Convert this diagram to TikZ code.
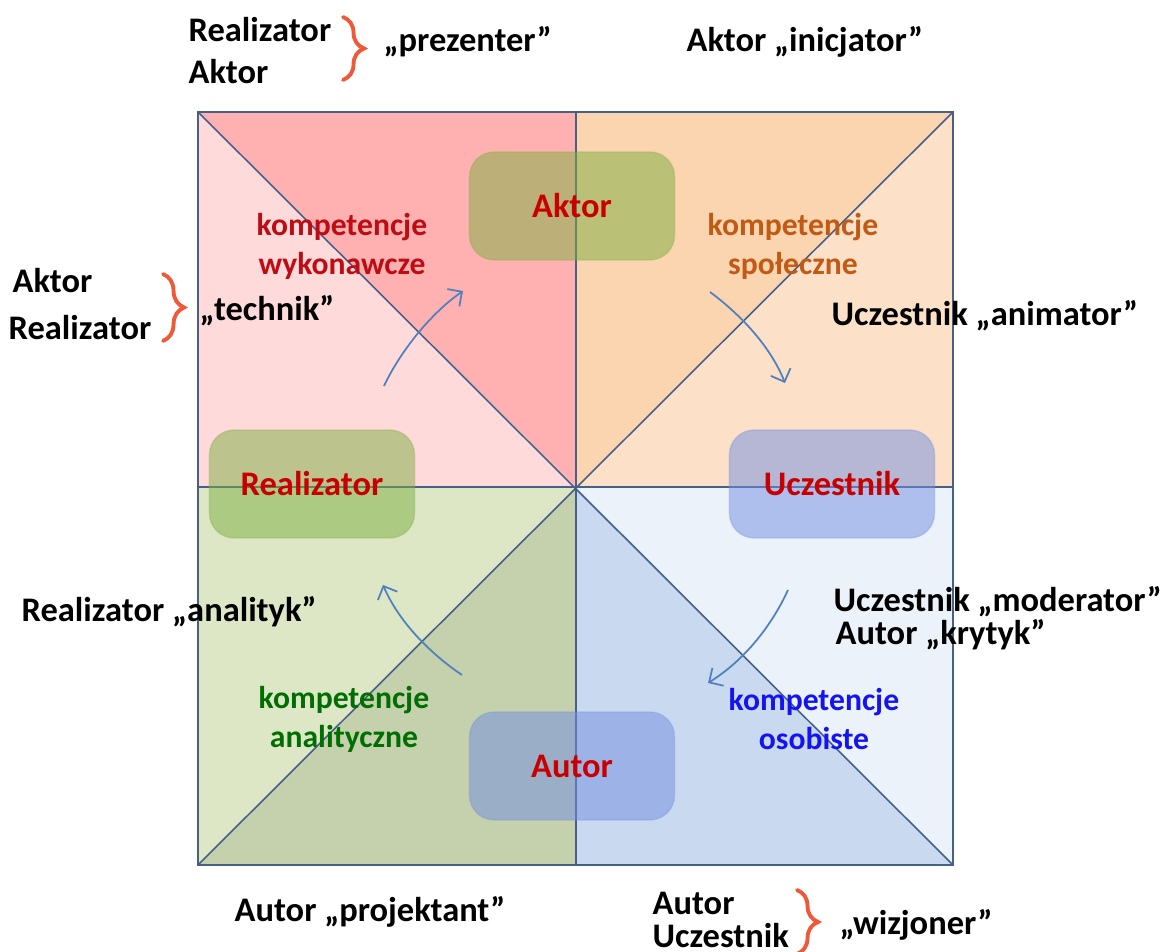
\documentclass[tikz,border=0pt]{standalone}
\usepackage{fontspec}
\setmainfont{Carlito}
\usepackage{tikz}
\usetikzlibrary{arrows.meta, positioning, decorations.pathreplacing}
\definecolor{myline}{RGB}{70,96,138}
\definecolor{pinklt}{RGB}{255,218,218}
\definecolor{pinkdk}{RGB}{255,177,177}
\definecolor{peachlt}{RGB}{252,224,200}
\definecolor{peachdk}{RGB}{251,212,176}
\definecolor{greenlt}{RGB}{221,231,198}
\definecolor{greendk}{RGB}{197,208,172}
\definecolor{bluelt}{RGB}{236,242,250}
\definecolor{bluedk}{RGB}{201,218,240}
\definecolor{myolive}{RGB}{125,174,64}
\definecolor{myboxblue}{RGB}{114,142,226}
\definecolor{myred}{RGB}{200,0,0}
\definecolor{mywine}{RGB}{190,12,20}
\definecolor{mybrown}{RGB}{192,90,20}
\definecolor{mygreen}{RGB}{0,110,0}
\definecolor{myblue}{RGB}{20,20,240}
\definecolor{myflow}{RGB}{79,129,189}
\definecolor{mybrace}{RGB}{240,88,58}
\tikzset{
  quadline/.style={draw=myline, line width=0.45pt},
  rolebox/.style={rectangle, rounded corners=7pt, minimum width=2.05cm,
    minimum height=1.08cm, font=\bfseries\fontsize{9.8}{12}\selectfont,
    text=myred, fill opacity=0.5, draw opacity=0.3, text opacity=1},
  olivebox/.style={rolebox, fill=myolive, draw=myolive},
  bluebox/.style={rolebox, fill=myboxblue, draw=myboxblue},
  complbl/.style={align=center, font=\bfseries\fontsize{9}{11.1}\selectfont},
  rolelbl/.style={anchor=west, inner sep=0pt,
    font=\bfseries\fontsize{9.8}{12}\selectfont},
  flow/.style={-{Straight Barb[length=3pt,width=6pt]}, draw=myflow, line width=0.5pt},
  bracket/.style={decorate, decoration={brace, amplitude=6pt},
    draw=mybrace, line width=1.1pt, line cap=round}
}

\begin{document}
\begin{tikzpicture}[x=0.01cm, y=-0.01cm]
  \useasboundingbox (0,0) rectangle (1162,952);

  % Square corners and centre
  \coordinate (TL) at (198,112);
  \coordinate (TR) at (953,112);
  \coordinate (BL) at (198,865);
  \coordinate (BR) at (953,865);
  \coordinate (C) at (576,487);
  \coordinate (T) at (576,112);
  \coordinate (B) at (576,865);
  \coordinate (L) at (198,487);
  \coordinate (R) at (953,487);

  % Quadrant fills
  \fill[pinklt] (TL) rectangle (C);
  \fill[pinkdk] (TL) -- (T) -- (C) -- cycle;
  \fill[peachlt] (T) rectangle (R);
  \fill[peachdk] (T) -- (TR) -- (C) -- cycle;
  \fill[greenlt] (L) rectangle (B);
  \fill[greendk] (BL) -- (B) -- (C) -- cycle;
  \fill[bluelt] (C) rectangle (BR);
  \fill[bluedk] (C) -- (B) -- (BR) -- cycle;

  % Lines
  \draw[quadline] (TL) rectangle (BR);
  \draw[quadline] (TL) -- (BR);
  \draw[quadline] (TR) -- (BL);
  \draw[quadline, line width=0.6pt] (T) -- (B);
  \draw[quadline, line width=0.8pt] (L) -- (R);

  % Role boxes
  \node[olivebox] (aktor) at (572,206) {Aktor};
  \node[olivebox] (realizator) at (312,484) {Realizator};
  \node[bluebox] (uczestnik) at (832,484) {Uczestnik};
  \node[bluebox] (autor) at (572,766) {Autor};

  % Competence labels
  \node[complbl, text=mywine] (kwyk) at (342,246) {kompetencje\\wykonawcze};
  \node[complbl, text=mybrown] (kspo) at (793,246) {kompetencje\\społeczne};
  \node[complbl, text=mygreen] (kana) at (344,719) {kompetencje\\analityczne};
  \node[complbl, text=myblue] (koso) at (814,719) {kompetencje\\osobiste};

  % Flow arrows
  \coordinate (f1a) at (384,386); \coordinate (f1b) at (463,291);
  \coordinate (f2a) at (710,292); \coordinate (f2b) at (785,383);
  \coordinate (f3a) at (788,590); \coordinate (f3b) at (708,683);
  \coordinate (f4a) at (462,675); \coordinate (f4b) at (383,585);
  \draw[flow] (f1a) .. controls (400,352) and (430,314) .. (f1b);
  \draw[flow] (f2a) .. controls (745,318) and (772,350) .. (f2b);
  \draw[flow] (f3a) .. controls (772,625) and (745,660) .. (f3b);
  \draw[flow] (f4a) .. controls (428,652) and (398,620) .. (f4b);

  % Top labels
  \node[rolelbl] (prez1) at (188,30) {Realizator};
  \node[rolelbl] (prez2) at (188,72) {Aktor};
  \draw[bracket] (343,17) -- (343,80);
  \node[rolelbl] (prez) at (383,42) {„prezenter”};
  \node[rolelbl] (inic) at (686,42) {Aktor „inicjator”};

  % Side labels
  \node[rolelbl] (tech1) at (12,281) {Aktor};
  \node[rolelbl] (tech2) at (8,328) {Realizator};
  \draw[bracket] (163,274) -- (163,341);
  \node[rolelbl] (tech) at (199,311) {„technik”};
  \node[rolelbl] (anim) at (831,316) {Uczestnik „animator”};
  \node[rolelbl] (anal) at (21,612) {Realizator „analityk”};
  \node[rolelbl] (mode) at (833,602) {Uczestnik „moderator”};
  \node[rolelbl] (kryt) at (835,635) {Autor „krytyk”};

  % Bottom labels
  \node[rolelbl] (proj) at (234,912) {Autor „projektant”};
  \node[rolelbl] (wiz1) at (652,903) {Autor};
  \node[rolelbl] (wiz2) at (652,936) {Uczestnik};
  \draw[bracket] (797,890) -- (797,954);
  \node[rolelbl] (wiz) at (839,925) {„wizjoner”};
\end{tikzpicture}
\end{document}
